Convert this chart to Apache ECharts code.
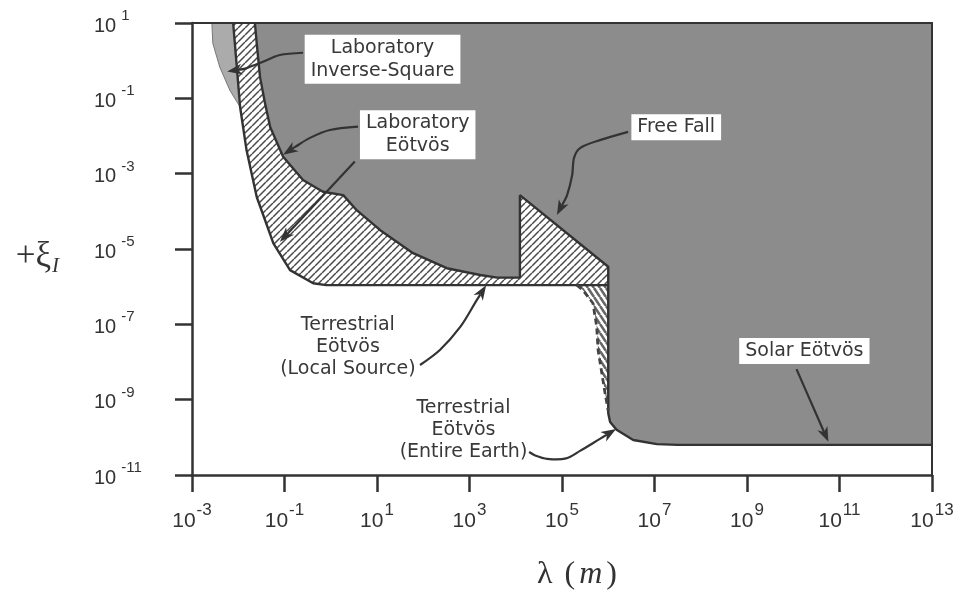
<!DOCTYPE html>
<html>
<head>
<meta charset="utf-8">
<title>Limits on ξ versus λ</title>
<script src="https://cdn.jsdelivr.net/npm/echarts@6/dist/echarts.min.js"></script>
<style>
  html, body { margin: 0; padding: 0; background: #fff; }
  #chart { width: 972px; height: 605px; }
</style>
</head>
<body>
<div id="chart"></div>
<script>
// Axis decades (exponents of ten)
const xExponents = [-3, -1, 1, 3, 5, 7, 9, 11, 13];
const yExponents = [-11, -9, -7, -5, -3, -1, 1];

// Boundary points, each as [log10 λ (m), log10 ξ]
const invSquareEdge = [[-2.57, 1], [-2.55, 0.46], [-2.40, -0.17], [-2.18, -0.79], [-1.96, -1.23]];
const labEotvosEdge = [[-2.11, 1], [-1.96, -1.23], [-1.82, -2.38], [-1.60, -3.62], [-1.24, -4.85],
  [-0.88, -5.56], [-0.38, -5.91], [-0.10, -5.96], [6.00, -5.96]];
const labEotvosTop = [[-1.64, 1], [-1.60, 0.45], [-1.53, -0.43], [-1.42, -1.14], [-1.31, -1.76],
  [-1.03, -2.55], [-0.60, -3.17], [-0.17, -3.48], [0.27, -3.57], [0.56, -3.97], [1.07, -4.50],
  [1.78, -5.11], [2.51, -5.51], [3.23, -5.69], [3.60, -5.76], [4.09, -5.76]];
const freeFallEdge = [[4.09, -5.76], [4.09, -3.57], [6.00, -5.47]];
const solarEdge = [[6.00, -5.47], [6.00, -9.36], [6.04, -9.59], [6.18, -9.80], [6.54, -10.07],
  [7.05, -10.18], [7.50, -10.20], [13, -10.20]];
const entireEarthEdge = [[5.32, -5.96], [5.45, -6.09], [5.67, -6.44], [5.75, -7.06], [5.78, -7.68],
  [5.86, -8.29], [5.93, -8.82], [6.00, -9.30]];

// Boxed callouts and plain notes
const calloutText = ['Laboratory\nInverse-Square', 'Laboratory\nEötvös', 'Free Fall', 'Solar Eötvös'];
const calloutAt = [[1.12, 0.04], [1.88, -1.97], [7.47, -1.77], [10.24, -7.71]];
const noteText = ['Terrestrial\nEötvös\n(Local Source)', 'Terrestrial\nEötvös\n(Entire Earth)'];
const noteAt = [[0.37, -7.61], [2.87, -9.80]];

// Leader arrows, drawn from the text towards the tip
const arrowInvSquare = [[-0.60, 0.21], [-1.10, 0.15], [-1.49, -0.04], [-1.85, -0.21], [-2.24, -0.29]];
const arrowLabEotvosA = [[0.59, -1.75], [-0.02, -1.84], [-0.45, -2.05], [-0.77, -2.29], [-1.03, -2.50]];
const arrowLabEotvosB = [[0.52, -2.68], [-1.10, -4.81]];
const arrowFreeFall = [[6.43, -1.89], [5.82, -2.11], [5.39, -2.32], [5.26, -2.58], [5.22, -3.04], [5.11, -3.57], [4.89, -4.10]];
const arrowLocal = [[1.93, -8.08], [2.36, -7.68], [2.80, -7.07], [3.16, -6.35], [3.36, -5.96]];
const arrowEarth = [[4.29, -10.39], [4.42, -10.48], [4.68, -10.57], [5.09, -10.56], [5.39, -10.36], [5.82, -10.04], [6.17, -9.78]];
const arrowSolar = [[10.07, -8.19], [10.76, -10.12]];

const INK = '#333';
const TEXT = '#383838';
const SANS = '"DejaVu Sans", "Liberation Sans", sans-serif';
const LABEL_FONT = '"Liberation Sans", Arial, sans-serif';
const SERIF = '"Liberation Serif", "DejaVu Serif", serif';

function hatch(w, h, lineWidth, color, rising) {
  const c = document.createElement('canvas');
  c.width = w; c.height = h;
  const g = c.getContext('2d');
  g.strokeStyle = color;
  g.lineWidth = lineWidth;
  g.beginPath();
  for (const o of [-w, 0, w]) {
    if (rising) { g.moveTo(o, h); g.lineTo(o + w, 0); }
    else { g.moveTo(o, 0); g.lineTo(o + w, h); }
  }
  g.stroke();
  return c;
}

// Region outlines assembled from the boundary arrays
const darkRegion = labEotvosTop.concat(freeFallEdge.slice(1), solarEdge.slice(1), [[13, 1]]);
const hatchedRegion = labEotvosEdge.concat(
  labEotvosTop.concat(freeFallEdge.slice(1)).reverse());
const invSquareRegion = invSquareEdge.concat([labEotvosEdge[0]]);
const earthRegion = entireEarthEdge.concat([[6.00, -5.96]]);
const darkBoundary = labEotvosTop.concat(freeFallEdge.slice(1), solarEdge.slice(1));

function regionSeries(points, style, z) {
  return {
    type: 'custom', coordinateSystem: 'cartesian2d', silent: true, z,
    data: points,
    renderItem(params, api) {
      if (params.dataIndexInside !== 0) return null;
      const pts = [];
      for (let i = 0; i < params.dataInsideLength; i++) {
        pts.push(api.coord([api.value(0, i), api.value(1, i)]));
      }
      return { type: 'polygon', shape: { points: pts }, style };
    }
  };
}

function edgeSeries(points, width, color, type, z) {
  return {
    type: 'line', data: points, silent: true, symbol: 'none', z,
    lineStyle: { width, color, type }, animation: false
  };
}

function arrowSeries(points) {
  return {
    type: 'custom', coordinateSystem: 'cartesian2d', silent: true, z: 6,
    data: points,
    renderItem(params, api) {
      if (params.dataIndexInside !== 0) return null;
      const pts = [];
      for (let i = 0; i < params.dataInsideLength; i++) {
        pts.push(api.coord([api.value(0, i), api.value(1, i)]));
      }
      const tip = pts[pts.length - 1], prev = pts[pts.length - 2];
      const dx = tip[0] - prev[0], dy = tip[1] - prev[1];
      const len = Math.hypot(dx, dy) || 1;
      const ux = dx / len, uy = dy / len;
      const headLen = 15, half = 5.5;
      const base = [tip[0] - ux * headLen, tip[1] - uy * headLen];
      const notch = [tip[0] - ux * headLen * 0.72, tip[1] - uy * headLen * 0.72];
      const shaft = pts.slice(0, -1).concat([notch]);
      return {
        type: 'group',
        children: [
          { type: 'polyline', shape: { points: shaft, smooth: 0.3 },
            style: { stroke: INK, lineWidth: 2.2, fill: null } },
          { type: 'polygon',
            shape: { points: [tip, [base[0] - uy * half, base[1] + ux * half], notch,
                              [base[0] + uy * half, base[1] - ux * half]] },
            style: { fill: INK } }
        ]
      };
    }
  };
}

const chart = echarts.init(document.getElementById('chart'), null, { renderer: 'canvas' });

// Base "10" sits low, the exponent high; both tokens share one box height.
const xLabelRich = {
  b: { fontFamily: LABEL_FONT, fontSize: 21, lineHeight: 22, color: INK, padding: [8, 0, 0, 0] },
  s: { fontFamily: LABEL_FONT, fontSize: 17, lineHeight: 16, color: INK, padding: [0, 0, 14, 1] }
};
const yLabelRich = {
  b: { fontFamily: LABEL_FONT, fontSize: 20, lineHeight: 22, color: INK, padding: [6, 0, 0, 0] },
  s: { fontFamily: LABEL_FONT, fontSize: 15, lineHeight: 14, color: INK, padding: [0, 0, 14, 5] }
};

const xStep = xExponents[1] - xExponents[0];
const yStep = yExponents[1] - yExponents[0];

const calloutLabel = {
  show: true, position: 'inside', formatter: '{b}', opacity: 1,
  fontFamily: SANS, fontSize: 19, lineHeight: 23, color: TEXT, align: 'center',
  backgroundColor: '#ffffff', padding: [2, 6, 1, 6]
};

const option = {
  animation: false,
  backgroundColor: '#fff',
  grid: { left: 192, right: 40, top: 23, height: 452, containLabel: false, outerBoundsMode: 'none' },
  xAxis: [{
    type: 'value', min: xExponents[0], max: xExponents[xExponents.length - 1], interval: xStep,
    z: 10,
    axisLine: { show: true, onZero: false, lineStyle: { color: INK, width: 2.5 } },
    axisTick: { show: true, inside: false, length: 17, lineStyle: { color: INK, width: 2.5 } },
    splitLine: { show: false },
    axisLabel: { margin: 31, formatter: v => `{b|10}{s|${v}}`, rich: xLabelRich },
    name: '{l|λ}{p|(}{i|m}{p|)}',
    nameLocation: 'middle', nameGap: 84,
    nameTextStyle: {
      padding: [0, 0, 0, 30],
      rich: {
        l: { fontFamily: SERIF, fontSize: 32, color: INK, padding: [0, 12, 0, 0] },
        p: { fontFamily: SERIF, fontSize: 32, color: INK },
        i: { fontFamily: SERIF, fontSize: 32, fontStyle: 'italic', color: INK, padding: [0, 4, 0, 4] }
      }
    }
  }, {
    type: 'value', position: 'top', min: xExponents[0], max: xExponents[xExponents.length - 1],
    z: 10,
    axisLine: { show: true, onZero: false, lineStyle: { color: INK, width: 2 } },
    axisTick: { show: false }, axisLabel: { show: false }, splitLine: { show: false }
  }],
  yAxis: [{
    type: 'value', min: yExponents[0], max: yExponents[yExponents.length - 1], interval: yStep,
    z: 10,
    axisLine: { show: true, onZero: false, lineStyle: { color: INK, width: 2.5 } },
    axisTick: { show: true, inside: false, length: 17, lineStyle: { color: INK, width: 2.5 } },
    splitLine: { show: false },
    axisLabel: { margin: 98, align: 'left', formatter: v => `{b|10}{s|${v}}`, rich: yLabelRich },
    name: '{a|+ξ}{i|I}',
    nameLocation: 'middle', nameRotate: 0, nameGap: 133,
    nameTextStyle: {
      padding: [18, 0, 0, 0],
      rich: {
        a: { fontFamily: SERIF, fontSize: 35, lineHeight: 38, color: INK, verticalAlign: 'top' },
        i: { fontFamily: SERIF, fontSize: 21, lineHeight: 18, fontStyle: 'italic', color: INK,
             verticalAlign: 'bottom', padding: [24, 0, 0, 1] }
      }
    }
  }, {
    type: 'value', position: 'right', min: yExponents[0], max: yExponents[yExponents.length - 1],
    z: 10,
    axisLine: { show: true, onZero: false, lineStyle: { color: INK, width: 2 } },
    axisTick: { show: false }, axisLabel: { show: false }, splitLine: { show: false }
  }],
  series: [
    regionSeries(darkRegion, { fill: '#8c8c8c' }, 1),
    regionSeries(invSquareRegion, { fill: '#ababab' }, 1),
    regionSeries(hatchedRegion, { fill: { image: hatch(7, 7, 1.5, '#4a4a4a', true), repeat: 'repeat' } }, 1),
    regionSeries(earthRegion, { fill: { image: hatch(6, 9, 2.6, '#666', false), repeat: 'repeat' } }, 1),
    edgeSeries(invSquareEdge, 1, '#777', 'solid', 3),
    edgeSeries(labEotvosEdge, 2.4, INK, 'solid', 3),
    edgeSeries(darkBoundary, 2.4, INK, 'solid', 3),
    edgeSeries(entireEarthEdge, 2.8, '#444', [6, 4], 3),
    arrowSeries(arrowInvSquare),
    arrowSeries(arrowLabEotvosA),
    arrowSeries(arrowLabEotvosB),
    arrowSeries(arrowFreeFall),
    arrowSeries(arrowLocal),
    arrowSeries(arrowEarth),
    arrowSeries(arrowSolar),
    {
      type: 'scatter', silent: true, z: 8, symbolSize: 1,
      itemStyle: { color: 'transparent', opacity: 1 },
      data: calloutText.map((t, i) => ({ name: t, value: calloutAt[i] })),
      label: calloutLabel
    },
    {
      type: 'scatter', silent: true, z: 8, symbolSize: 1,
      itemStyle: { color: 'transparent', opacity: 1 },
      data: noteText.map((t, i) => ({ name: t, value: noteAt[i] })),
      label: {
        show: true, position: 'inside', formatter: '{b}', opacity: 1,
        fontFamily: SANS, fontSize: 19, lineHeight: 22, color: TEXT, align: 'center'
      }
    }
  ]
};

chart.setOption(option);
</script>
</body>
</html>
